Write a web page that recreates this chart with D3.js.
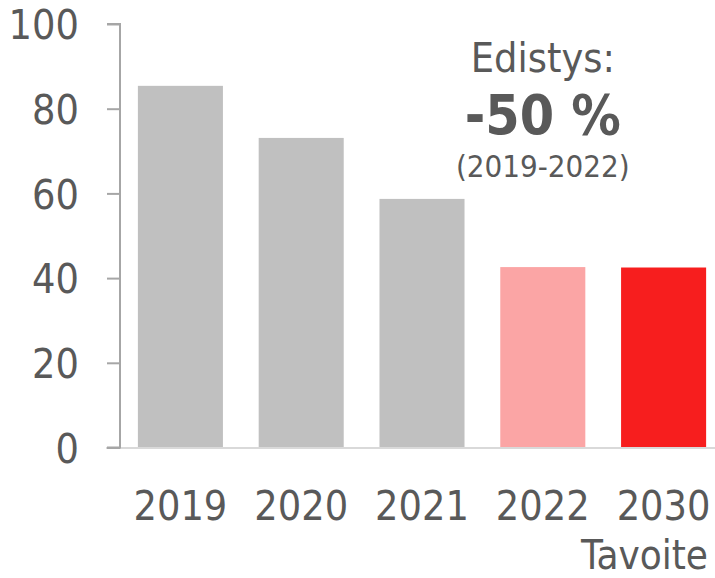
<!DOCTYPE html>
<html>
<head>
<meta charset="utf-8">
<script src="https://cdn.jsdelivr.net/npm/d3@7"></script>
<style>
  html, body { margin: 0; padding: 0; background: #fff; }
  svg { display: block; }
  text { font-family: "DejaVu Sans Condensed", "DejaVu Sans", sans-serif; font-stretch: condensed; fill: #595959; }
</style>
</head>
<body>
<svg id="chart" width="715" height="578"></svg>
<script>
const categories = ["2019", "2020", "2021", "2022", "2030"];
const values = [85.4, 73.1, 58.7, 42.6, 42.5];
const barColors = ["#c0c0c0", "#c0c0c0", "#c0c0c0", "#fba5a5", "#f71e1e"];
const yTicks = [0, 20, 40, 60, 80, 100];
const subLabel = "Tavoite";
const noteLines = ["Edistys:", "-50 %", "(2019-2022)"];

const svg = d3.select("#chart");
const x = d3.scaleBand().domain(categories).range([120, 724]).paddingInner(0.296).paddingOuter(0.148);
const y = d3.scaleLinear().domain([0, 100]).range([447.5, 24]);

// bars
svg.append("g").selectAll("rect").data(categories).join("rect")
  .attr("x", d => x(d))
  .attr("width", x.bandwidth())
  .attr("y", (d, i) => y(values[i]))
  .attr("height", (d, i) => y(0) - y(values[i]))
  .attr("fill", (d, i) => barColors[i]);

// baseline
svg.append("line").attr("x1", 106).attr("x2", 715).attr("y1", y(0) + 0.5).attr("y2", y(0) + 0.5)
  .attr("stroke", "#d9d9d9").attr("stroke-width", 2);

// y axis
const yAxis = d3.axisLeft(y).tickValues(yTicks).tickSize(13).tickPadding(28);
const gy = svg.append("g").attr("transform", "translate(120,0)").call(yAxis);
gy.select(".domain").attr("stroke", "#a6a6a6").attr("stroke-width", 2).attr("d", `M-13,${y(100)}H0V${y(0)}H-13`);
gy.selectAll(".tick line").attr("stroke", "#a6a6a6").attr("stroke-width", 2);
gy.selectAll(".tick text").attr("font-size", 41).attr("fill", "#595959")
  .style("font-family", null).attr("font-family", null).attr("dy", "0.36em");

// x labels
svg.append("g").selectAll("text").data(categories).join("text")
  .attr("x", d => x(d) + x.bandwidth() / 2)
  .attr("y", 520)
  .attr("text-anchor", "middle")
  .attr("font-size", 41)
  .text(d => d);

svg.append("text").attr("x", 708).attr("y", 569).attr("text-anchor", "end")
  .attr("font-size", 40).text(subLabel);

// annotation
const cx = x("2022") + x.bandwidth() / 2;
svg.append("text").attr("x", cx).attr("y", 72).attr("text-anchor", "middle").attr("font-size", 41).text(noteLines[0]);
svg.append("text").attr("x", cx).attr("y", 134).attr("text-anchor", "middle").attr("font-size", 55).attr("font-weight", "bold").text(noteLines[1]);
svg.append("text").attr("x", cx).attr("y", 177).attr("text-anchor", "middle").attr("font-size", 31).text(noteLines[2]);
</script>
</body>
</html>
